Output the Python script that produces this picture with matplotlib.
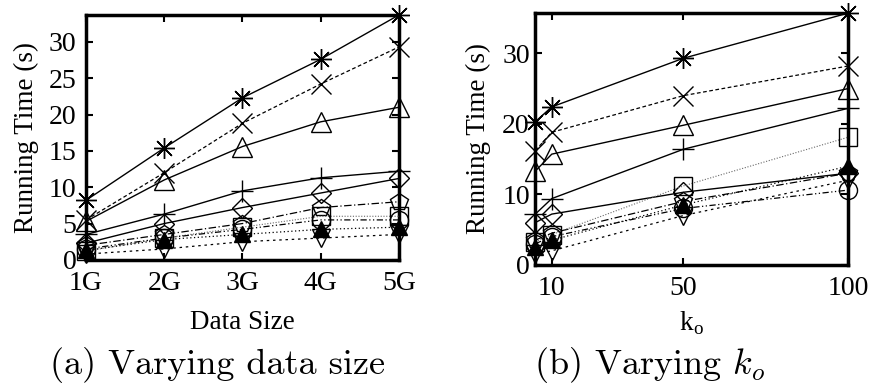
import numpy as np
import matplotlib.pyplot as plt

plt.rcParams.update({
    "font.family": "serif",
    "font.serif": ["Liberation Serif", "DejaVu Serif"],
    "mathtext.fontset": "cm",
})

# data size experiment (x: GB)
sizes = [1, 2, 3, 4, 5]
size_labels = ['1G', '2G', '3G', '4G', '5G']
a_star = [8.2, 15.4, 22.3, 27.6, 33.7]
a_cross = [5.5, 12.0, 18.8, 24.2, 29.3]
a_tri = [5.3, 11.0, 15.6, 19.0, 21.0]
a_plus = [3.5, 6.3, 9.5, 11.3, 12.2]
a_diam = [2.3, 5.0, 7.2, 9.2, 11.2]
a_pent = [2.0, 3.5, 5.0, 7.2, 8.0]
a_square = [1.2, 3.0, 4.5, 6.0, 6.0]
a_circle = [1.5, 3.0, 4.2, 5.5, 5.5]
a_ftri = [1.3, 2.8, 3.5, 4.2, 4.5]
a_dtri = [0.8, 1.5, 2.5, 3.0, 3.5]

# k_o experiment
ks = [5, 10, 50, 100]
k_ticks = [10, 50, 100]
b_star = [20.3, 22.4, 29.3, 35.7]
b_cross = [16.2, 18.8, 24.0, 28.2]
b_tri = [13.3, 15.7, 19.8, 25.0]
b_plus = [7.2, 9.4, 16.4, 22.2]
b_diam = [6.0, 7.2, 10.3, 13.0]
b_pent = [3.5, 4.5, 9.0, 13.0]
b_square = [3.3, 4.3, 11.2, 18.1]
b_circle = [3.0, 4.0, 8.0, 10.6]
b_ftri = [2.5, 3.5, 8.5, 14.0]
b_dtri = [1.5, 2.0, 7.0, 12.0]

star8 = (8, 2, 0)
# marker, fill, linestyle, linewidth, color, markersize
styles = [
    (star8, 'none', '-', 1.0, 'black', 15),
    ('x', 'none', (0, (3, 2)), 0.9, 'black', 15),
    ('^', 'none', '-', 1.0, 'black', 14),
    ('+', 'none', '-', 1.0, 'black', 16),
    ('D', 'none', '-', 1.0, 'black', 10),
    ('p', 'none', (0, (6, 2, 1, 2)), 0.9, 'black', 13),
    ('s', 'none', (0, (1, 1.5)), 0.8, 'dimgray', 13),
    ('o', 'none', (0, (5, 2, 1, 2, 1, 2)), 0.9, 'black', 13),
    ('^', 'full', (0, (1, 2)), 0.9, 'black', 11),
    ('v', 'none', (0, (2, 3)), 0.9, 'black', 13),
]

series_a = [a_star, a_cross, a_tri, a_plus, a_diam, a_pent, a_square, a_circle, a_ftri, a_dtri]
series_b = [b_star, b_cross, b_tri, b_plus, b_diam, b_pent, b_square, b_circle, b_ftri, b_dtri]

fig = plt.figure(figsize=(8.69, 3.85), dpi=100)
ax1 = fig.add_axes([0.099, 0.325, 0.360, 0.636])
ax2 = fig.add_axes([0.616, 0.312, 0.360, 0.654])

for ax, xs, ys_list in [(ax1, sizes, series_a), (ax2, ks, series_b)]:
    for ys, (m, fill, ls, lw, c, ms) in zip(ys_list, styles):
        ax.plot(xs, ys, linestyle=ls, linewidth=lw, color=c, marker=m,
                markersize=ms, fillstyle=fill, markeredgecolor='black',
                markerfacecolor='black' if fill == 'full' else 'none',
                markeredgewidth=1.0, clip_on=False, zorder=3)
    for s in ax.spines.values():
        s.set_linewidth(2.5)
    ax.tick_params(axis='both', which='major', direction='in', length=5, width=1.5,
                   labelsize=20, top=True, right=True)
    ax.tick_params(axis='x', pad=8)

ax1.set_xlim(1, 5)
ax1.set_ylim(0, 33.7)
ax1.set_xticks(sizes)
ax1.set_xticklabels(size_labels)
ax1.set_yticks([0, 5, 10, 15, 20, 25, 30])
ax1.tick_params(axis='y', pad=7)
ax1.set_ylabel('Running Time (s)', fontsize=19.5, labelpad=7)
ax1.set_xlabel('Data Size', fontsize=19.5, labelpad=10)

ax2.set_xlim(5, 100)
ax2.set_ylim(0, 35.7)
ax2.set_xticks(k_ticks)
ax2.set_yticks([0, 10, 20, 30])
ax2.tick_params(axis='y', pad=4)
ax2.set_ylabel('Running Time (s)', fontsize=19.5, labelpad=8)
ax2.set_xlabel(r'k$_\mathregular{o}$', fontsize=19.5, labelpad=6)

fig.text(0.25, 0.052, '(a) Varying data size', fontsize=26, ha='center',
         va='center', family='cmr10')
fig.text(0.747, 0.052, r'(b) Varying $k_o$', fontsize=26, ha='center',
         va='center', family='cmr10')

fig.savefig('out.png', dpi=100)
